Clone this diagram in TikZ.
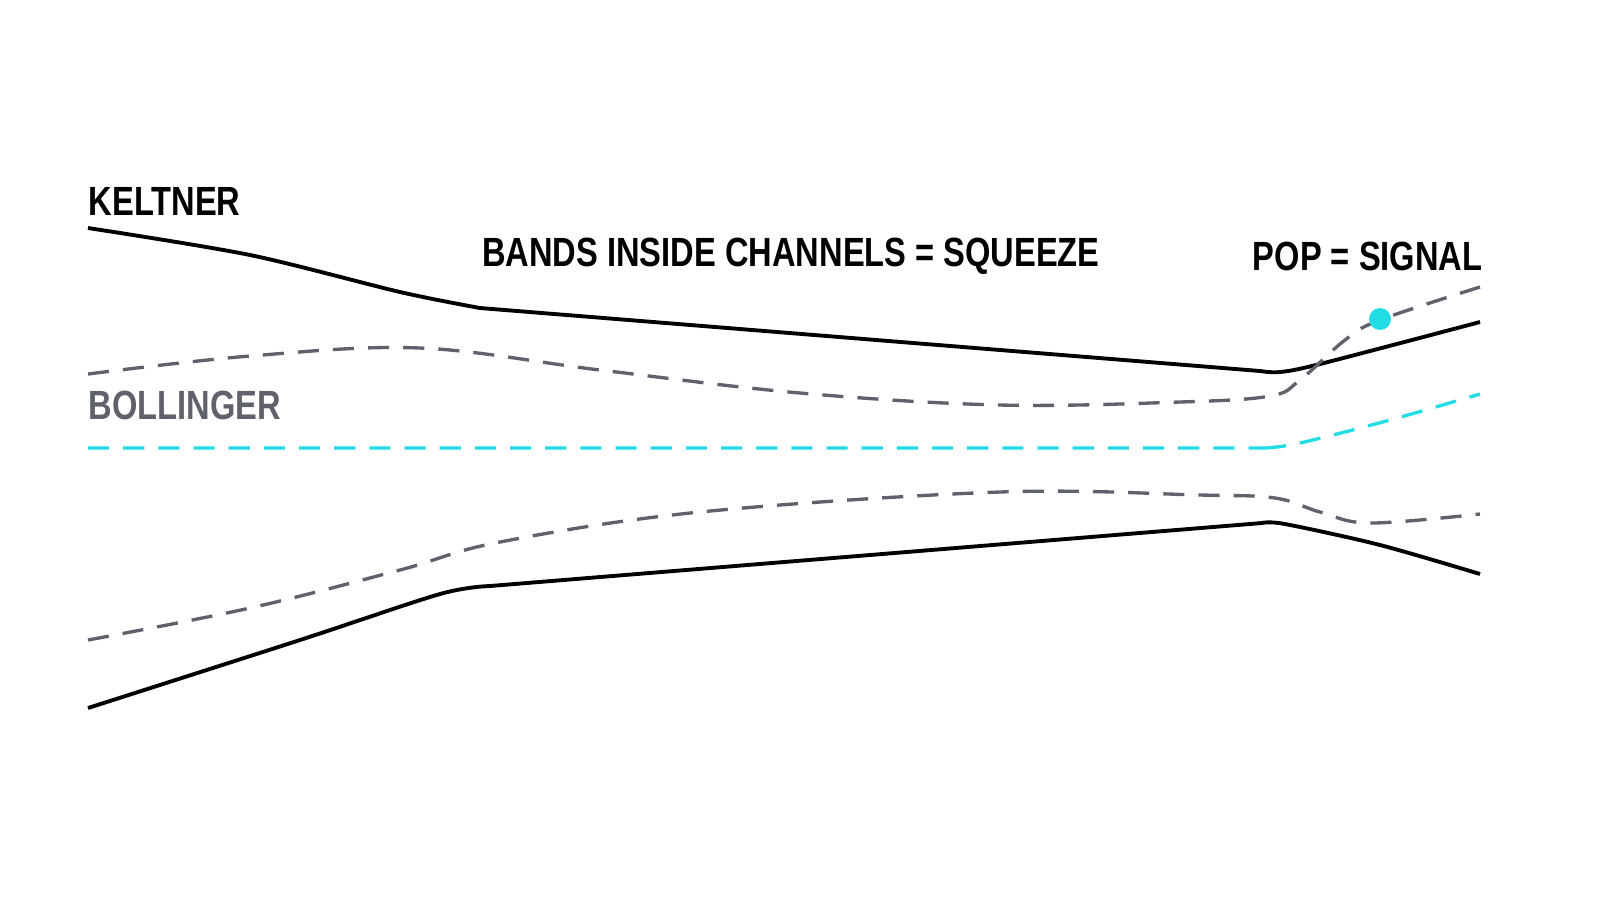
\documentclass[tikz,border=0pt]{standalone}
\usepackage{fontspec}
\setmainfont{Liberation Sans}[FakeStretch=0.8]
\definecolor{gray1}{HTML}{60626B}
\definecolor{cyan1}{HTML}{22DDE6}
\begin{document}
\begin{tikzpicture}[x=0.01cm,y=-0.01cm,
  kel/.style={line width=1.1pt,black,line join=round},
  bol/.style={line width=0.95pt,color=gray1,dash pattern=on 6pt off 4pt},
  mid/.style={line width=0.95pt,color=cyan1,dash pattern=on 6pt off 4pt},
  lab/.style={font=\fontsize{11.6}{14}\selectfont\bfseries,inner sep=0pt}]
\draw[kel] plot[smooth,tension=0.5] coordinates {(88,228) (250,255) (400,292) (480,308)} -- (1260,371) plot[smooth,tension=0.5] coordinates {(1260,371) (1280,372) (1320,364) (1480,322)};
\draw[bol] plot[smooth,tension=0.6] coordinates {(88,374) (250,356) (420,348) (600,370) (800,393) (1000,405) (1180,402) (1270,396) (1300,380) (1345,340) (1380,320) (1480,287)};
\draw[mid] (88,448) -- (1265,448) plot[smooth,tension=0.6] coordinates {(1265,448) (1300,443) (1390,420) (1480,394)};
\draw[bol] plot[smooth,tension=0.6] coordinates {(88,640) (250,608) (400,570) (500,542) (700,512) (1000,492) (1200,495) (1275,498) (1320,512) (1370,523) (1480,514)};
\draw[kel] plot[smooth,tension=0.5] coordinates {(88,708) (300,640) (440,594) (490,586)} -- (1262,523) plot[smooth,tension=0.5] coordinates {(1262,523) (1285,524) (1380,545) (1480,574)};
\fill[cyan1] (1380,319) circle (11);
\node[lab,anchor=west] (k) at (88,201) {KELTNER};
\node[lab,anchor=west,text=gray1] (b) at (88,405) {BOLLINGER};
\node[lab] (s) at (791,256) {BANDS INSIDE CHANNELS = SQUEEZE};
\node[lab,anchor=east] (p) at (1483,256) {POP = SIGNAL};
\pgfresetboundingbox
\useasboundingbox (0,0) rectangle (1600,914);
\end{tikzpicture}
\end{document}
